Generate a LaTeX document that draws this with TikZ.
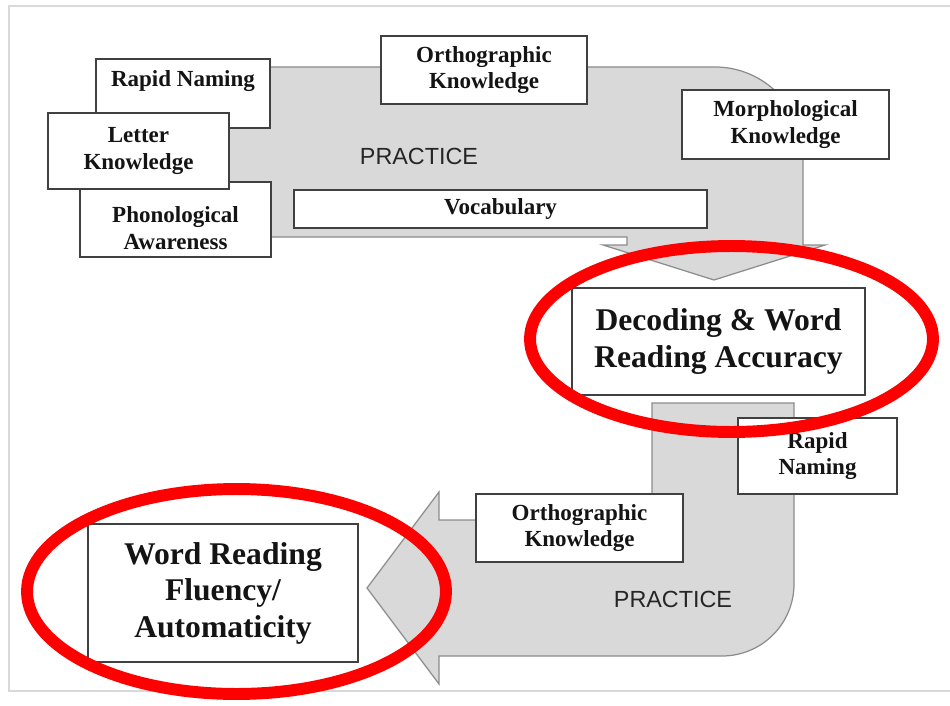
\documentclass[tikz,border=0pt]{standalone}
\usepackage{fontspec}
\setmainfont{Liberation Serif}
\newfontfamily\practicefont{Liberation Sans}
\begin{document}
\begin{tikzpicture}[x=0.02cm,y=-0.02cm,
  gbox/.style={draw=black!75,line width=1pt,fill=white,inner sep=0pt,align=center,
    font=\bfseries\fontsize{13.1}{15.3}\selectfont,text=black!92},
  lbl/.style={inner sep=0pt,align=center,font=\bfseries\fontsize{13.1}{15.3}\selectfont,text=black!92},
  bigbox/.style={gbox,font=\bfseries\fontsize{18}{20.8}\selectfont},
  flow/.style={fill=black!15,draw=black!45,line width=0.7pt,line join=miter},
  practice/.style={inner sep=0pt,font=\practicefont\fontsize{13.3}{15}\selectfont,text=black!85},
  ring/.style={draw=red,line width=6.8pt},
  frame/.style={draw=black!15,line width=0.9pt}]
\useasboundingbox (0,0) rectangle (950,706);
\fill[white] (0,0) rectangle (950,706);
% outer frame
\draw[frame] (950,6) -- (9,6) -- (9,691) -- (950,691);

% upper bent arrow: practice leads down to decoding
\draw[flow] (200,67) -- (715,67) .. controls (763.6,67) and (803,106.4) .. (803,155)
  -- (803,245) -- (825,245) -- (714,280) -- (603,245) -- (627,245) -- (627,237)
  -- (200,237) -- cycle;
\node[practice] (pr1) at (419,156) {PRACTICE};

\node[gbox,minimum width=4.12cm,minimum height=1.36cm] (ot) at (484,70) {Orthographic\\Knowledge};
\node[gbox,minimum width=4.14cm,minimum height=1.38cm] (mk) at (785.5,124.5) {Morphological\\Knowledge};
\node[gbox,minimum width=8.26cm,minimum height=0.76cm] (voc) at (500.5,209) {Vocabulary};
\node[gbox,minimum width=3.48cm,minimum height=1.38cm] (rn1) at (183,93.5) {};
\node[lbl] (rn1t) at (183,81) {Rapid Naming};
\node[gbox,minimum width=3.82cm,minimum height=1.50cm] (ph) at (175.5,219.5) {};
\node[lbl] (pht) at (175.5,228) {Phonological\\Awareness};
\node[gbox,minimum width=3.62cm,minimum height=1.52cm] (lk) at (138.5,151) {Letter\\Knowledge};

% decoding outcome
\node[bigbox,minimum width=5.86cm,minimum height=2.14cm] (dec) at (718.5,341.5) {Decoding \& Word\\Reading Accuracy};

% lower bent arrow: practice leads to fluency
\draw[flow] (652,403) -- (794,403) -- (794,584) .. controls (794,623.8) and (761.8,656) .. (722,656)
  -- (439,656) -- (439,684) -- (367,588) -- (439,492) -- (439,520) -- (652,520) -- cycle;
\node[practice] (pr2) at (673,599) {PRACTICE};

\node[gbox,minimum width=3.18cm,minimum height=1.52cm] (rn2) at (817.5,456) {Rapid\\Naming};
\node[gbox,minimum width=4.14cm,minimum height=1.36cm] (ob) at (579.5,528) {Orthographic\\Knowledge};

% fluency outcome
\node[bigbox,minimum width=5.40cm,minimum height=2.76cm] (wr) at (223,593) {Word Reading\\Fluency/\\Automaticity};

% highlight rings
\draw[ring] (731.5,339) ellipse [x radius=4.03cm,y radius=1.86cm];
\draw[ring] (236.5,591.5) ellipse [x radius=4.19cm,y radius=2.05cm];
\end{tikzpicture}
\end{document}
